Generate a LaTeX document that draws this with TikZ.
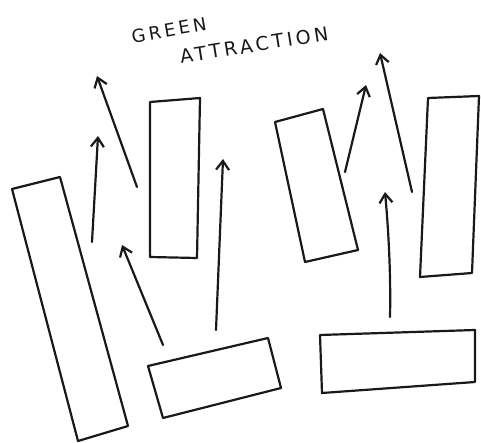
\documentclass[tikz,border=0pt]{standalone}
\usepackage{fontspec}
\newfontfamily\handfont[LetterSpace=18]{DejaVu Sans}
\usetikzlibrary{arrows.meta}
\begin{document}
\begin{tikzpicture}[x=1pt,y=-1pt,
  ink/.style={draw=black!90,line width=2.2pt,line join=round,line cap=round},
  flow/.style={ink,-{Straight Barb[length=9pt,width=13pt,line width=2.2pt]}},
  hand/.style={font=\handfont\fontsize{18}{18}\selectfont,text=black!90,inner sep=0pt}]
\useasboundingbox (0,0) rectangle (481,443);
% boxes
\draw[ink] (12,189) -- (60,177) -- (128,426) -- (78,441) -- cycle;
\draw[ink] (150,102) -- (200,98) -- (197,258) -- (150,257) -- cycle;
\draw[ink] (275,122) -- (323,109) -- (358,250) -- (305,262) -- cycle;
\draw[ink] (428,98) -- (479,96) -- (472,273) -- (420,277) -- cycle;
\draw[ink] (148,366) -- (268,338) -- (281,388) -- (163,418) -- cycle;
\draw[ink] (320,335) -- (475,330) -- (475,382) -- (322,393) -- cycle;
% arrows
\coordinate (a1s) at (137,187); \coordinate (a1e) at (97,76);
\coordinate (a2s) at (92,242);  \coordinate (a2e) at (98,136);
\coordinate (a3s) at (163,345); \coordinate (a3e) at (122,245);
\coordinate (a4s) at (216,330); \coordinate (a4e) at (223,159);
\coordinate (a5s) at (345,172); \coordinate (a5e) at (366,85);
\coordinate (a6s) at (412,192); \coordinate (a6e) at (380,53);
\coordinate (a7s) at (390,317); \coordinate (a7e) at (385,192);
\draw[flow] (a1s) -- (a1e);
\draw[flow] (a2s) -- (a2e);
\draw[flow] (a3s) -- (a3e);
\draw[flow] (a4s) -- (a4e);
\draw[flow] (a5s) -- (a5e);
\draw[flow] (a6s) -- (a6e);
\draw[flow] (a7s) .. controls (391,270) and (388,225) .. (a7e);
% title
\node[hand,rotate=10] (t1) at (169,30) {GREEN};
\node[hand,rotate=9,font=\handfont\fontsize{19}{19}\selectfont] (t2) at (254,45) {ATTRACTION};
\end{tikzpicture}
\end{document}
